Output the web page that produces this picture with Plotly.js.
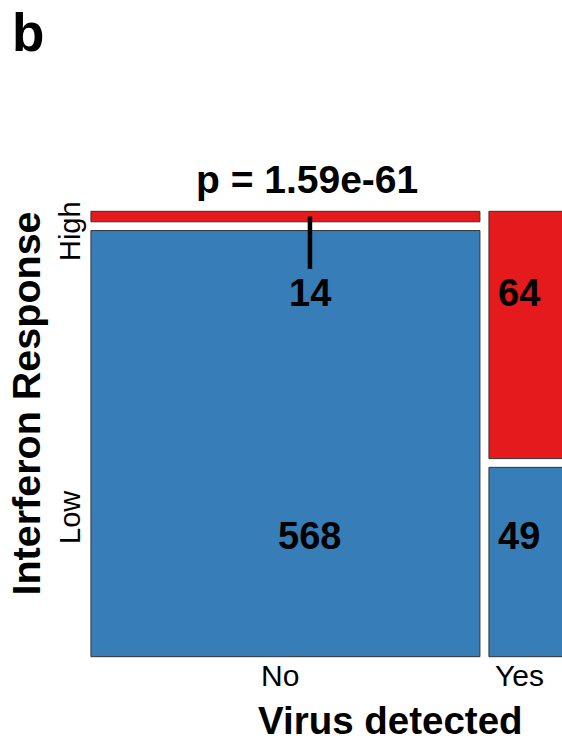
<!DOCTYPE html>
<html>
<head>
<meta charset="utf-8">
<script src="https://cdn.plot.ly/plotly-3.0.1.min.js"></script>
<style>
  html, body { margin: 0; padding: 0; background: #fff; }
  #chart { width: 562px; height: 743px; }
</style>
</head>
<body>
<div id="chart"></div>
<script>
// Contingency table: virus detection vs interferon response
const virusCategories = ['No', 'Yes'];
const responseCategories = ['High', 'Low'];
const highCounts = [14, 64];
const lowCounts = [568, 49];
const pValueText = 'p = 1.59e-61';
const panelLetter = 'b';

// Mosaic geometry (unit square plus gaps between tiles)
const GAP_X = 0.0194;
const GAP_Y = 0.02;
const RED = '#E41A1C';
const BLUE = '#377EB8';
const EDGE = '#333333';
const FONT = 'Liberation Sans, Arial, Helvetica, sans-serif';

const colTotals = highCounts.map((h, i) => h + lowCounts[i]);
const grand = colTotals.reduce((a, b) => a + b, 0);
const colWidths = colTotals.map(t => t / grand);
const colStarts = [];
let acc = 0;
colWidths.forEach((w, i) => { colStarts.push(acc); acc += w + GAP_X; });
const colCenters = colStarts.map((s, i) => s + colWidths[i] / 2);
const lowFrac = lowCounts.map((l, i) => l / colTotals[i]);
const highFrac = highCounts.map((h, i) => h / colTotals[i]);

const lowTrace = {
  type: 'bar',
  x: colCenters,
  width: colWidths,
  base: lowFrac.map(() => 0),
  y: lowFrac,
  marker: { color: BLUE, line: { color: EDGE, width: 1 } },
  hoverinfo: 'skip',
  showlegend: false
};
const highTrace = {
  type: 'bar',
  x: colCenters,
  width: colWidths,
  base: lowFrac.map(f => f + GAP_Y),
  y: highFrac,
  marker: { color: RED, line: { color: EDGE, width: 1 } },
  hoverinfo: 'skip',
  showlegend: false
};

// Count label anchors in axis units
const countLabelX = [0.4715, 0.9214];
const countLabelYHigh = 0.833;
const countLabelYLow = 0.277;
// Category label anchors in paper units
const xTickPos = [0.4025, 0.911];
const xTickY = -0.038;
const yTickPos = [0.953, 0.3147];
const yTickX = -0.0424;

function label(x, y, ref, text, size, bold, angle) {
  return {
    x: x, y: y, xref: ref === 'data' ? 'x' : 'paper', yref: ref === 'data' ? 'y' : 'paper',
    xanchor: 'center', yanchor: 'middle',
    text: text, textangle: angle || 0, showarrow: false,
    font: { family: FONT, size: size, color: '#000', weight: bold ? 'bold' : 'normal' }
  };
}

const annotations = [];
virusCategories.forEach((c, i) => {
  annotations.push(label(countLabelX[i], countLabelYHigh, 'data', String(highCounts[i]), 38, true));
  annotations.push(label(countLabelX[i], countLabelYLow, 'data', String(lowCounts[i]), 38, true));
  annotations.push(label(xTickPos[i], xTickY, 'paper', c, 30, false));
});
responseCategories.forEach((r, i) => {
  annotations.push(label(yTickX, yTickPos[i], 'paper', r, 29, false, -90));
});
annotations.push(label(0.6367, -0.1384, 'paper', 'Virus detected', 38.5, true));
annotations.push(label(-0.1356, 0.568, 'paper', 'Interferon Response', 39.5, true, -90));
annotations.push(label(0.4587, 1.067, 'paper', pValueText, 39, true));
annotations.push(label(-0.1314, 1.397, 'paper', panelLetter, 53, true));

// Leader line from the small tile's label up to the tile
const shapes = [{
  type: 'line', xref: 'x', yref: 'y',
  x0: countLabelX[0], x1: countLabelX[0],
  y0: 0.888, y1: lowFrac[0] + GAP_Y + highFrac[0] / 2,
  line: { color: '#000', width: 4.5 }
}];

const layout = {
  width: 562, height: 743,
  margin: { l: 90, r: 0, t: 210, b: 85 },
  paper_bgcolor: '#fff', plot_bgcolor: '#fff',
  barmode: 'overlay',
  xaxis: { range: [-0.002, 1.0141], showgrid: false, zeroline: false,
           showticklabels: false, ticks: '', showline: false, fixedrange: true },
  yaxis: { range: [-0.003, 1.023], showgrid: false, zeroline: false,
           showticklabels: false, ticks: '', showline: false, fixedrange: true },
  annotations: annotations,
  shapes: shapes
};

Plotly.newPlot('chart', [lowTrace, highTrace], layout, { displayModeBar: false, staticPlot: true });
</script>
</body>
</html>
